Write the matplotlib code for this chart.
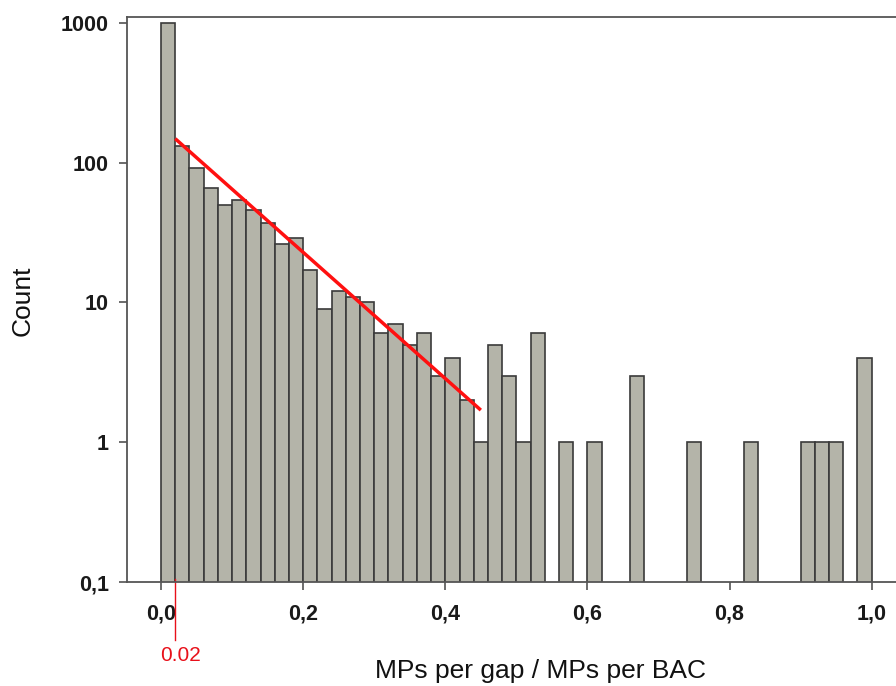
import numpy as np
import matplotlib
matplotlib.use("Agg")
import matplotlib.pyplot as plt
import matplotlib.transforms as mtransforms

plt.rcParams["font.family"] = ["Liberation Sans", "DejaVu Sans"]

# histogram counts per 0.02-wide bin, from 0.00 to 1.00
bin_width = 0.02
counts = [1000, 131, 91, 66, 50, 54, 46, 37, 26, 29,
          17, 9, 12, 11, 10, 6, 7, 5, 6, 3,
          4, 2, 1, 5, 3, 1, 6, 0, 1, 0,
          1, 0, 0, 3, 0, 0, 0, 1, 0, 0,
          0, 1, 0, 0, 0, 1, 1, 1, 0, 4]

# fitted exponential decay drawn in red
fit_x = [0.02, 0.45]
fit_y = [148, 1.7]
cutoff = 0.02

yticks = [0.1, 1, 10, 100, 1000]
ytick_labels = ["0,1", "1", "10", "100", "1000"]
xticks = [0.0, 0.2, 0.4, 0.6, 0.8, 1.0]
xtick_labels = ["0,0", "0,2", "0,4", "0,6", "0,8", "1,0"]

counts = np.array(counts)
edges = np.arange(len(counts)) * bin_width
keep = counts > 0

fig = plt.figure(figsize=(8.96, 6.86), dpi=100)
ax = fig.add_axes([0.1414, 0.1512, 0.8586, 0.824])

ax.set_yscale("log")
ax.bar(edges[keep], counts[keep], width=bin_width, align="edge",
       color="#b4b4a9", edgecolor="#3a3a3a", linewidth=1.2)
ax.plot(fit_x, fit_y, color="#ff1010", linewidth=2.5, solid_capstyle="butt", zorder=5)

ax.set_xlim(-0.0483, 1.0342)
ax.set_ylim(0.1, 10 ** 3.04)

ax.set_yticks(yticks)
ax.set_yticklabels(ytick_labels)
ax.yaxis.set_minor_locator(matplotlib.ticker.NullLocator())
ax.set_xticks(xticks)
ax.set_xticklabels(xtick_labels)

for lbl in ax.get_xticklabels() + ax.get_yticklabels():
    lbl.set_fontweight("bold")
    lbl.set_fontsize(15.5)
    lbl.set_color("#1a1a1a")
ax.tick_params(axis="y", length=6, width=1.1, color="#444444", pad=7)
ax.tick_params(axis="x", length=6, width=1.1, color="#444444", pad=9)

ax.spines["right"].set_visible(False)
for side in ["left", "bottom", "top"]:
    ax.spines[side].set_color("#555555")
    ax.spines[side].set_linewidth(1.3)

# red marker for the 0.02 cutoff below the axis
trans = mtransforms.blended_transform_factory(ax.transData, ax.transAxes)
ax.plot([cutoff, cutoff], [0.006, -0.102], color="#e8101a", linewidth=1.0,
        transform=trans, clip_on=False)
ax.text(cutoff + 0.008, -0.1295, "0.02", color="#e8101a", fontsize=15,
        ha="center", va="center", transform=trans)

fig.text(0.0251, 1 - 301 / 686, "Count", rotation=90, fontsize=19,
         ha="center", va="center", color="#111111")
fig.text(0.603, 1 - 671 / 686, "MPs per gap / MPs per BAC", fontsize=19,
         ha="center", va="center", color="#111111")

fig.savefig("out.png", dpi=100)
